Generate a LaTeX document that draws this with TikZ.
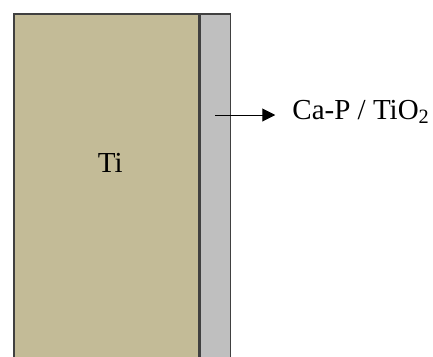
\documentclass[tikz,border=0pt]{standalone}
\usepackage{fontspec}
\setmainfont{Liberation Serif}
\usepackage{tikz}
\usetikzlibrary{arrows.meta, positioning}

\definecolor{tiTan}{HTML}{C3BB97}
\definecolor{coatGray}{HTML}{BFBFBF}

\begin{document}
\begin{tikzpicture}[
      x=1pt, y=1pt,
      font=\fontsize{29}{34}\selectfont,
      layer/.style={draw=black!75, line width=1.5pt, inner sep=0,
                    minimum height=350pt, anchor=north west},
      arr/.style={-{Triangle[length=13pt, width=13pt]}, line width=1pt}
    ]
    \useasboundingbox (0,0) rectangle (433,-356);

    % substrate and coating, running off the bottom edge
    \node[layer, fill=tiTan, minimum width=185pt] (ti) at (13,-13) {};
    \node[layer, fill=coatGray, minimum width=30pt] (coat) at (ti.north east) {};
    \node (tiLbl) at ([xshift=4pt, yshift=-150pt]ti.north) {Ti};

    \coordinate (tail) at ([yshift=-102pt]coat.north);
    \node[right=77pt of tail, anchor=base west, yshift=-4pt, inner sep=0] (lbl)
      {Ca-P / TiO\textsubscript{2}};

    \draw[arr, shorten >=17pt] (tail) -- (tail -| lbl.west);
  \end{tikzpicture}
\end{document}
